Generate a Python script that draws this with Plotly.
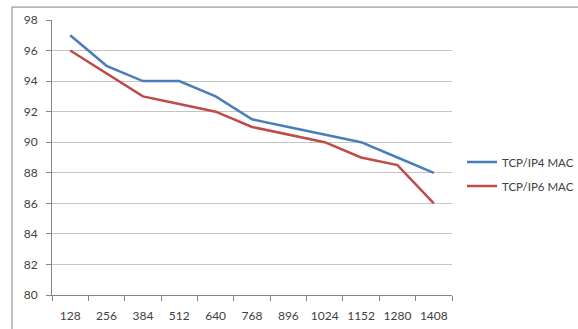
import plotly.graph_objects as go

packet_sizes = ["128", "256", "384", "512", "640", "768", "896", "1024", "1152", "1280", "1408"]
ip4_mac = [97, 95, 94, 94, 93, 91.5, 91, 90.5, 90, 89, 88]
ip6_mac = [96, 94.5, 93, 92.5, 92, 91, 90.5, 90, 89, 88.5, 86]
y_ticks = [80, 82, 84, 86, 88, 90, 92, 94, 96, 98]

fig = go.Figure()
fig.add_trace(go.Scatter(x=packet_sizes, y=ip4_mac, mode="lines", name="TCP/IP4 MAC",
                         legendgroup="ip4", line=dict(color="#4A7EBB", width=2.5)))
fig.add_trace(go.Scatter(x=packet_sizes, y=ip6_mac, mode="lines", name="TCP/IP6 MAC",
                         legendgroup="ip6", line=dict(color="#BE4B48", width=2.5)))

font = dict(family="Lato, Open Sans, sans-serif", size=12, color="#404040")

fig.update_layout(
    width=578, height=329,
    margin=dict(l=52, r=126, t=20, b=34, autoexpand=False),
    paper_bgcolor="white", plot_bgcolor="white",
    font=font,
    showlegend=True,
    legend=dict(x=1.025, y=0.44, xanchor="left", yanchor="middle",
                font=dict(family="Lato, Open Sans, sans-serif", size=11.5, color="#404040"),
                bgcolor="rgba(0,0,0,0)", tracegroupgap=5, itemwidth=30),
    xaxis=dict(type="category", range=[-0.5, len(packet_sizes) - 0.5],
               tickson="boundaries", ticks="outside", ticklen=5, tickangle=0,
               tickcolor="#868686", showline=True, linecolor="#868686", linewidth=1,
               showgrid=False, tickfont=font, ticklabelstandoff=10),
    yaxis=dict(range=[80, 98], tickvals=y_ticks, ticks="outside", ticklen=5,
               tickcolor="#868686", showline=True, linecolor="#868686", linewidth=1,
               showgrid=True, gridcolor="#C4C4C4", gridwidth=1, zeroline=False,
               tickfont=font, ticklabelstandoff=6),
    shapes=[dict(type="rect", xref="paper", yref="paper",
                 x0=-0.1, x1=1.4, y0=-0.2, y1=1.047,
                 line=dict(color="#808080", width=1), layer="below")],
)

fig.write_html("out.html")
